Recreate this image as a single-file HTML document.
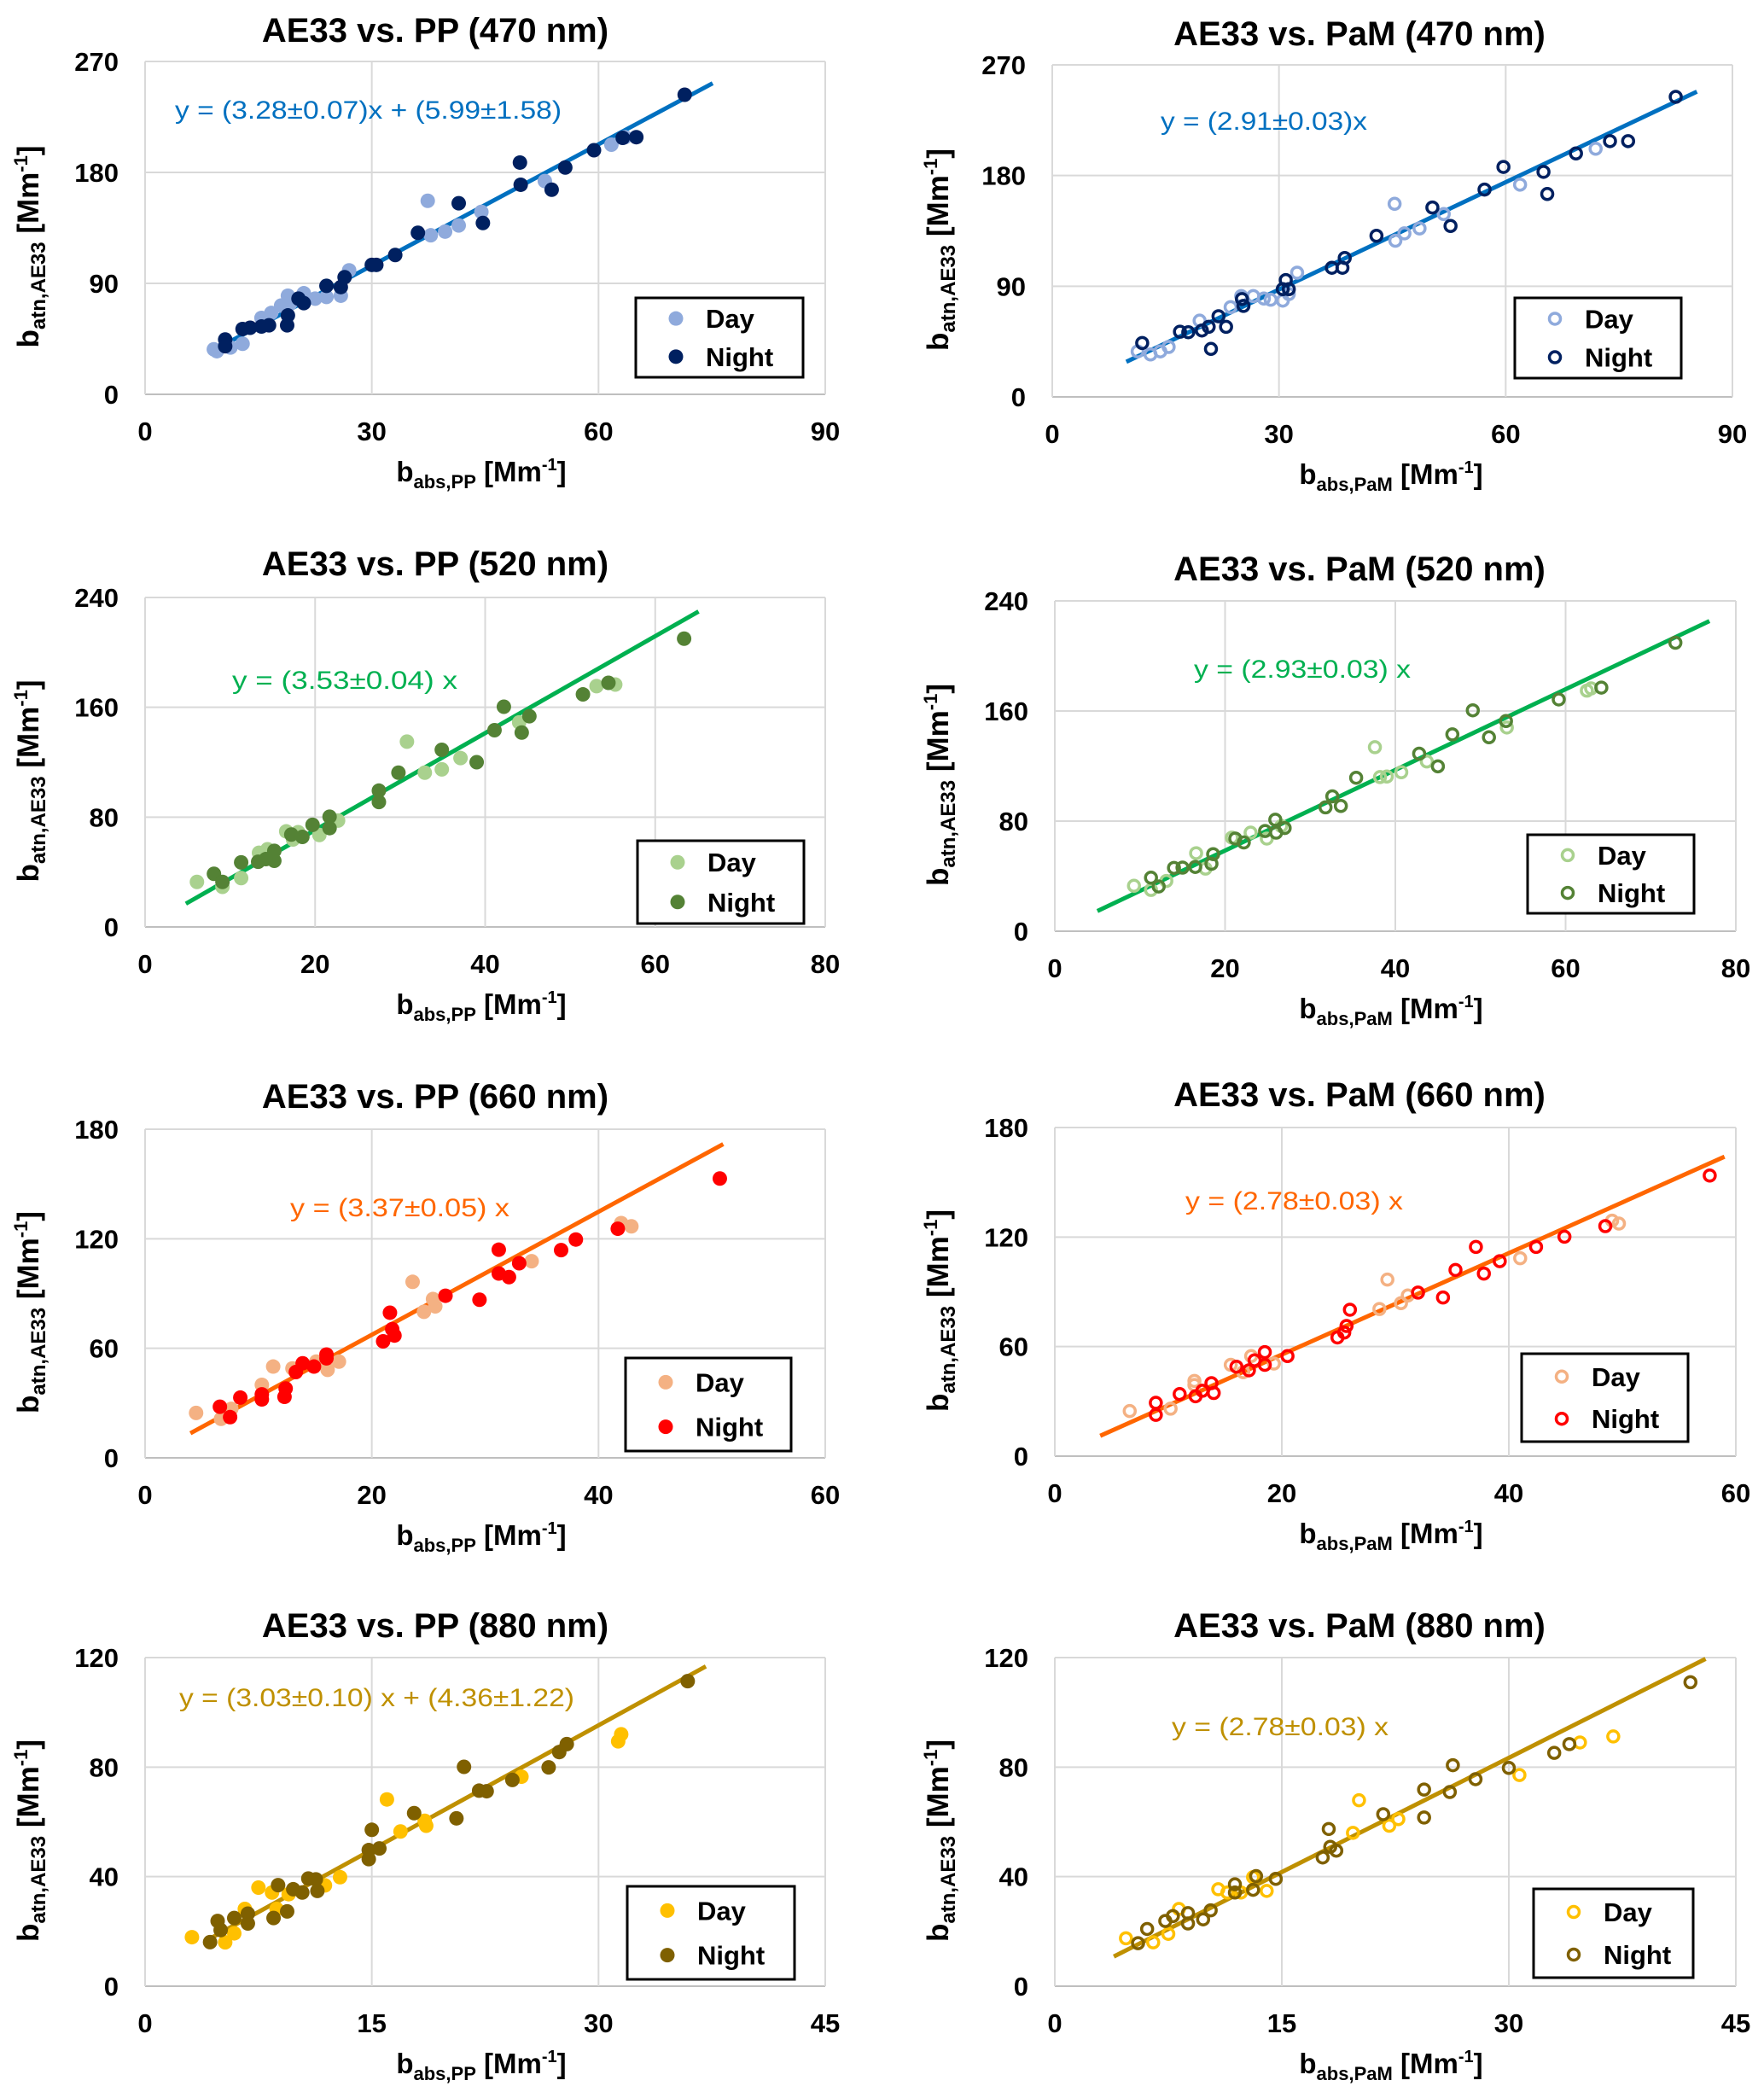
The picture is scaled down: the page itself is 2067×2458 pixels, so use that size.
<!DOCTYPE html>
<html><head><meta charset="utf-8"><style>
html,body{margin:0;padding:0;background:#fff;}
svg{display:block;font-family:"Liberation Sans",Arial,sans-serif;}
</style></head><body>
<svg id="fig" width="2067" height="2458" viewBox="0 0 2067 2458" xmlns="http://www.w3.org/2000/svg"></svg>
<script>
// ---- data: [x, y] pairs ----
const p1Day=[[9.1,36.5],[9.5,35],[11.3,38],[12.9,41],[15.4,62],[16.7,66],[18.9,80],[21,82],[22.5,77.6],[24,79],[25.9,80],[27,100.6],[37.4,157],[37.8,129],[39.7,132],[41.5,137],[44.5,148],[52.9,173],[61.7,202.5],[63.5,208.6],[18,72],[19.2,73.6]];
const p1Night=[[71.4,243],[63.2,208],[65,208.6],[59.4,198],[49.6,188],[55.6,184],[49.7,170],[53.8,166],[41.5,155],[44.7,139],[36.1,131],[33.1,113],[30,105],[30.6,105],[26.4,95],[25.9,87],[24,88],[21,74],[20.3,77.6],[18.9,64],[18.8,56],[16.4,56],[15.4,55],[13.9,54],[12.9,53],[10.6,44.5],[10.6,39]];
const p2Day=[[11.3,37],[13,34.5],[14.3,37],[15.4,40.6],[19.5,62],[23.6,73],[25,82],[26.6,82],[28,80],[28.9,79],[30.5,78.3],[31.3,83.6],[32.4,101],[45.3,157],[45.4,127],[46.6,133],[48.6,137],[51.8,148.7],[61.9,172.6],[71.9,201.8]];
const p2Night=[[82.5,244],[73.8,208],[76.2,208],[69.3,198],[59.7,187],[65,183],[65.5,165],[57.2,168.6],[50.3,154],[52.7,139],[42.9,131],[38.7,113],[38.4,105],[37,105],[30.9,95],[30.5,87.6],[31.3,87.6],[25.1,79.6],[25.3,74],[22,65.6],[23,57],[20.7,57],[19.8,54],[18,52.6],[16.9,53],[21,39],[11.9,43.8]];
const p3Day=[[6.1,32.8],[9.1,29.2],[11.3,35.6],[13.4,54],[14.4,56.6],[16.6,69.6],[17.4,63.7],[18,69],[20.5,67],[22.7,77.5],[30.8,135],[32.9,112.4],[34.9,114.8],[37.1,123],[44,149],[53.1,175.4],[55.3,176.6]];
const p3Night=[[63.4,210],[54.5,177.8],[51.5,169.4],[42.2,160.4],[45.2,153.5],[41.1,143.3],[44.3,141.6],[34.9,129],[39,120],[29.8,112.4],[27.5,99.3],[27.5,91],[21.7,80.3],[21.7,72],[19.7,74.4],[17.2,67.3],[18.5,65.6],[15.2,55.4],[15.2,48.2],[14.2,49.4],[13.3,47.5],[11.3,47],[8.1,38.7],[9.1,32.8]];
const p4Day=[[9.3,33],[11.3,30],[13.1,36.5],[16.6,56.7],[17.7,45.5],[20.8,68],[23,71.6],[24.9,67.3],[26.6,76.4],[37.6,133.7],[38.2,112],[39,112.4],[40.7,115.5],[43.7,123.3],[53.1,148],[62.5,174.8],[63,176.4]];
const p4Night=[[72.9,209.6],[64.2,177],[59.2,168.4],[49.1,160.5],[53,152.7],[46.7,143],[51,140.9],[42.8,129],[45,119.8],[35.4,111.5],[32.6,98],[31.8,90],[33.6,91],[25.9,81],[24.7,72.8],[27,75],[26,71.6],[21.2,67.3],[22.2,64.5],[18.6,56],[18.4,49],[16.5,46.7],[15,46.2],[14,46],[11.3,38.9],[12.2,32.5]];
const p5Day=[[4.5,24.6],[6.7,21.4],[7.6,26.8],[10.3,40],[11.3,50],[13,49],[15.1,52.7],[16.1,48.2],[17.1,52.7],[23.6,96.4],[24.6,80],[25.6,83],[25.4,87],[34.1,107.7],[42,128.6],[42.9,126.8]];
const p5Night=[[50.7,153],[41.7,125.5],[38,119.6],[36.7,113.8],[31.2,114],[33,106.6],[31.2,101],[32.1,99],[26.5,88.8],[29.5,86.6],[21.6,79.5],[21.8,70.5],[22,67],[21,63.8],[16,56.6],[16,54.5],[14.9,50],[13.9,51.8],[13.3,47],[12.4,38],[12.3,33.4],[10.3,34.8],[10.3,32],[8.4,33],[6.6,28],[7.5,22.3]];
const p6Day=[[6.6,24.7],[10.2,26],[12.3,41.2],[12.3,39],[15.5,50],[16.6,46],[17.3,54.8],[19.3,50.7],[28.6,80.6],[29.3,96.7],[30.5,83.8],[31.1,88],[41,108.4],[49.1,129],[49.7,127.4]];
const p6Night=[[57.7,153.7],[48.5,126],[44.9,120.2],[42.4,114.6],[37.1,114.6],[39.2,106.8],[35.3,102],[37.8,100],[32,89.6],[34.2,86.9],[26,80.2],[25.7,71.3],[25.5,67.7],[24.9,65],[20.5,54.8],[18.5,57],[18.5,50],[17.6,52.5],[17.1,47],[16,49],[13.8,40],[14,34.6],[13,35.8],[12.4,32.8],[11,34],[8.9,29.2],[8.9,22.6]];
const p7Day=[[3.1,17.9],[5.3,16],[5.9,19.3],[6.6,28.2],[7.5,36],[8.4,34.2],[8.7,28.2],[9.5,33.6],[11.9,36.8],[12.9,39.8],[16,68.2],[16.9,56.5],[18.5,60.4],[18.6,58.6],[24.9,76.5],[31.3,89.4],[31.5,92]];
const p7Night=[[35.9,111.4],[27.9,88.4],[27.4,85.5],[26.7,79.9],[21.1,80.1],[24.3,75.3],[22.1,71.4],[22.6,71.2],[17.8,63.2],[20.6,61.3],[15,57.1],[15.5,50.3],[14.8,49.7],[14.8,46.4],[10.8,39.3],[11.3,39],[11.4,34.8],[10.4,34.2],[9.8,35.4],[8.8,36.9],[9.4,27.3],[8.5,24.9],[6.8,22.9],[6.8,26.5],[5.9,24.9],[4.8,23.8],[5,20.5],[4.3,16.1]];
const p8Day=[[4.7,17.5],[6.5,16],[7.5,19.1],[8.2,28.2],[10.8,35.4],[11.4,34.2],[12.3,34.2],[13.1,39.8],[14,34.8],[19.7,56],[20.1,67.9],[22.1,58.6],[22.7,61],[30.7,77.1],[34.7,89],[36.9,91.2]];
const p8Night=[[42,111],[34,88.4],[33,85.2],[30,79.7],[26.3,80.7],[27.8,75.6],[24.4,71.8],[26.1,70.9],[21.7,62.8],[24.4,61.6],[18.1,57.4],[18.2,50.9],[18.6,49.5],[17.7,47],[14.6,39.2],[13.3,40.2],[13.1,35.2],[11.9,37.2],[11.9,34.2],[10.3,27.7],[9.8,24.4],[8.8,26.7],[8.8,22.9],[7.8,25.6],[7.3,23.8],[6.1,20.9],[5.5,15.7]];
// fit parameters: slope, intercept, x-start, x-end
const fitSlopes=[3.28,2.91,3.53,2.93,3.37,2.78,3.03,2.78];
const fitIntercepts=[5.99,0,0,0,0,0,4.36,0];
const fitXStart=[10.6,9.8,4.8,5.0,4.0,4.0,4.5,3.9];
const fitXEnd=[75.1,85.3,65.1,76.9,51,59,37.1,43];
const xMaxes=[90,90,80,80,60,60,45,45];
const yMaxes=[270,270,240,240,180,180,120,120];
const xSteps=[30,30,20,20,20,20,15,15];
const ySteps=[90,90,80,80,60,60,40,40];
const titles=["AE33 vs. PP (470 nm)","AE33 vs. PaM (470 nm)","AE33 vs. PP (520 nm)","AE33 vs. PaM (520 nm)","AE33 vs. PP (660 nm)","AE33 vs. PaM (660 nm)","AE33 vs. PP (880 nm)","AE33 vs. PaM (880 nm)"];
const equations=["y = (3.28±0.07)x + (5.99±1.58)","y = (2.91±0.03)x","y  = (3.53±0.04) x","y = (2.93±0.03) x","y = (3.37±0.05) x","y = (2.78±0.03) x","y = (3.03±0.10) x + (4.36±1.22)","y = (2.78±0.03) x"];
const dayData=[p1Day,p2Day,p3Day,p4Day,p5Day,p6Day,p7Day,p8Day];
const nightData=[p1Night,p2Night,p3Night,p4Night,p5Night,p6Night,p7Night,p8Night];

// ---- layout / style ----
const boxes=[[170,967,72,462],[1233,2030,76,465],[170,967,700,1086],[1236,2034,704,1091],[170,967,1323,1708],[1236,2034,1321,1706],[170,967,1942,2327],[1236,2034,1942,2327]];
const titleY=[49,53,674,680,1298,1296,1918,1918];
const legends=[[745,349,196,93],[1775,349,195,94],[747,985,195,97],[1790,978,195,92],[733,1591,194,109],[1783,1586,195,103],[735,2210,196,109],[1797,2213,187,104]];
const eqPos=[[205,128,453],[1360,141,242],[272,796,264],[1399,783,254],[340,1414,257],[1389,1406,255],[210,1988,463],[1373,2022,254]];
const colors=[["#8FAADC","#002060","#0070C0"],["#A9D18E","#548235","#00B050"],["#F4B183","#FF0000","#FF6600"],["#FFC000","#7F6000","#BF9000"]];
const NS="http://www.w3.org/2000/svg";
const svg=document.getElementById('fig');
function mk(tag,attrs,parent){const e=document.createElementNS(NS,tag);for(const k in attrs)e.setAttribute(k,attrs[k]);(parent||svg).appendChild(e);return e;}

for(let i=0;i<8;i++){
  const [L,R,T,B]=boxes[i];
  const right=i%2===1;
  const col=colors[Math.floor(i/2)];
  const xs=v=>L+(v/xMaxes[i])*(R-L);
  const ys=v=>B-(v/yMaxes[i])*(B-T);
  const g=mk('g',{});
  
  
  const t=mk('text',{x:right?1593:510,y:titleY[i],'text-anchor':'middle','font-size':40,'font-weight':'bold',fill:'#000'},g);
  t.textContent=titles[i];
  
  
  for(let v=0;v<=yMaxes[i]+1e-6;v+=ySteps[i]){
    const l=mk('line',{x1:L,x2:R,y1:ys(v),y2:ys(v),stroke:v===0?'#BFBFBF':'#D9D9D9','stroke-width':2},g);
    
    
    const tl=mk('text',{x:L-31,y:ys(v)+11,'text-anchor':'end','font-size':31,'font-weight':'bold',fill:'#000'},g);
    tl.textContent=v;
    
    
  }
  for(let v=0;v<=xMaxes[i]+1e-6;v+=xSteps[i]){
    const l=mk('line',{x1:xs(v),x2:xs(v),y1:T,y2:B,stroke:'#D9D9D9','stroke-width':2},g);
    
    
    const tl=mk('text',{x:xs(v),y:B+54,'text-anchor':'middle','font-size':31,'font-weight':'bold',fill:'#000'},g);
    tl.textContent=v;
    
    
  }
  const ycx=right?1099:33, ycy=(T+B)/2+22;
  const yt=mk('text',{x:0,y:0,transform:`translate(${ycx+12},${ycy}) rotate(-90)`,'text-anchor':'middle','font-size':35,'font-weight':'bold',fill:'#000'},g);
  yt.innerHTML='b<tspan font-size="24" dy="8">atn,AE33</tspan><tspan dy="-8" font-size="35">  [Mm</tspan><tspan font-size="22" dy="-13">-1</tspan><tspan dy="13">]</tspan>';
  
  
  const xt=mk('text',{x:right?1630:564,y:B+102,'text-anchor':'middle','font-size':33,'font-weight':'bold',fill:'#000'},g);
  xt.innerHTML='b<tspan font-size="22" dy="8">'+(right?'abs,PaM':'abs,PP')+'</tspan><tspan dy="-8"> [Mm</tspan><tspan font-size="20" dy="-13">-1</tspan><tspan dy="13">]</tspan>';
  
  
  const fl=mk('line',{x1:xs(fitXStart[i]),y1:ys(fitSlopes[i]*fitXStart[i]+fitIntercepts[i]),x2:xs(fitXEnd[i]),y2:ys(fitSlopes[i]*fitXEnd[i]+fitIntercepts[i]),stroke:col[2],'stroke-width':5},g);
  
  
  const drawPt=(p,c,nm)=>{
    const cx=xs(p[0]),cy=ys(p[1]);
    let e;
    if(right) e=mk('circle',{cx:cx,cy:cy,r:6.5,fill:'none',stroke:c,'stroke-width':3.5},g);
    else e=mk('circle',{cx:cx,cy:cy,r:8.5,fill:c},g);
    
    
  };
  dayData[i].forEach(p=>drawPt(p,col[0],'day-point'));
  nightData[i].forEach(p=>drawPt(p,col[1],'night-point'));
  const ep=eqPos[i];
  const eq=mk('text',{x:ep[0],y:ep[1]+11,'font-size':30,fill:col[2],textLength:ep[2],lengthAdjust:'spacingAndGlyphs'},g);
  eq.textContent=equations[i];
  
  
  const [lx,ly,lw,lh]=legends[i];
  const lg=mk('g',{},g);
  
  
  mk('rect',{x:lx,y:ly,width:lw,height:lh,fill:'#fff',stroke:'#000','stroke-width':3},lg);
  [['Day',col[0],0.26],['Night',col[1],0.74]].forEach(([lab,c,f])=>{
    const yy=ly+lh*f;
    let m;
    if(right) m=mk('circle',{cx:lx+47,cy:yy,r:6.5,fill:'none',stroke:c,'stroke-width':3.5},lg);
    else m=mk('circle',{cx:lx+47,cy:yy,r:8.5,fill:c},lg);
    
    
    const tx=mk('text',{x:lx+82,y:yy+11,'font-size':31,'font-weight':'bold',fill:'#000'},lg);
    tx.textContent=lab;
    
    
  });
}
</script>
</body></html>
